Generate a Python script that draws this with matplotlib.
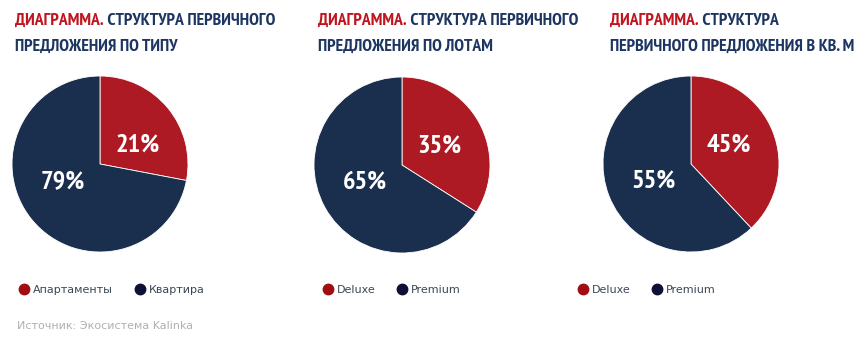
import matplotlib
matplotlib.use("Agg")
import matplotlib.pyplot as plt
from matplotlib import font_manager
from matplotlib.lines import Line2D

# look for a narrow bold face for the titles and percentages
cond_file = None
for key in ["narrow", "condensed"]:
    for f in font_manager.fontManager.ttflist:
        fn = f.fname.lower()
        if key in fn and "bold" in fn and "oblique" not in fn and "italic" not in fn:
            cond_file = f.fname
            break
    if cond_file:
        break

# data
title_red = "ДИАГРАММА."
titles = [
    ["СТРУКТУРА ПЕРВИЧНОГО", "ПРЕДЛОЖЕНИЯ ПО ТИПУ"],
    ["СТРУКТУРА ПЕРВИЧНОГО", "ПРЕДЛОЖЕНИЯ ПО ЛОТАМ"],
    ["СТРУКТУРА", "ПЕРВИЧНОГО ПРЕДЛОЖЕНИЯ В КВ. М"],
]
categories = [
    ["Апартаменты", "Квартира"],
    ["Deluxe", "Premium"],
    ["Deluxe", "Premium"],
]
# slice sizes as drawn in the source picture (it does not match its own labels)
shares = [
    [28, 72],
    [34, 66],
    [38, 62],
]
pct_labels = [
    ["21%", "79%"],
    ["35%", "65%"],
    ["45%", "55%"],
]
source = "Источник: Экосистема Kalinka"

RED = "#ad1a24"
NAVY = "#1a2e4e"
TITLE_NAVY = "#1d3561"
TITLE_RED = "#c0141e"
LEG_RED = "#a00d12"
LEG_NAVY = "#0e1038"

if cond_file:
    cfont = font_manager.FontProperties(fname=cond_file)
else:
    cfont = font_manager.FontProperties(family="DejaVu Sans", weight="bold")

W, H = 861, 351
fig = plt.figure(figsize=(W / 100, H / 100), dpi=100)
renderer = fig.canvas.get_renderer()

# pick the title size so the longest line fits the same width as in the source
probe = fig.text(0, 0, titles[2][1], fontproperties=cfont, fontsize=10)
probe_w = probe.get_window_extent(renderer).width
probe.remove()
tsize = min(13.5, 10 * 245 / probe_w)

centers = [(100, 164), (402, 165), (691, 164)]
title_x = [15, 318, 610]
legend_x = [8, 312, 567]
R = 88

for i in range(3):
    cx, cy = centers[i]
    ax = fig.add_axes([(cx - R) / W, 1 - (cy + R) / H, 2 * R / W, 2 * R / H])
    ax.pie(shares[i], colors=[RED, NAVY], startangle=90, counterclock=False,
           radius=1, wedgeprops=dict(linewidth=0.6, edgecolor="white"))
    ax.set_xlim(-1, 1)
    ax.set_ylim(-1, 1)
    ax.set_aspect("equal")
    ax.axis("off")
    ax.text(0.43, 0.21, pct_labels[i][0], color="white", fontsize=19,
            fontproperties=cfont, ha="center", va="center")
    ax.text(-0.42, -0.2, pct_labels[i][1], color="white", fontsize=19,
            fontproperties=cfont, ha="center", va="center")

    # title, two lines, first word red
    tx = title_x[i] / W
    t1 = fig.text(tx, 1 - 25 / H, title_red, color=TITLE_RED, fontsize=tsize,
                  fontproperties=cfont, ha="left", va="baseline")
    ax.annotate(" " + titles[i][0], xy=(1, 0), xycoords=t1,
                color=TITLE_NAVY, fontsize=tsize, fontproperties=cfont,
                ha="left", va="bottom", annotation_clip=False)
    fig.text(tx, 1 - 51 / H, titles[i][1], color=TITLE_NAVY, fontsize=tsize,
             fontproperties=cfont, ha="left", va="baseline")

    handles = [Line2D([], [], marker="o", linestyle="", markersize=7.5,
                      color=c) for c in [LEG_RED, LEG_NAVY]]
    fig.legend(handles, categories[i], loc="center left",
               bbox_to_anchor=(legend_x[i] / W, 1 - 290 / H), ncol=2,
               frameon=False, fontsize=8, handletextpad=0.3,
               columnspacing=1.95, handlelength=1.0, labelcolor="#3b4756")

fig.text(17 / W, 1 - 326 / H, source, color="#b0b0b0", fontsize=8,
         ha="left", va="center")

fig.savefig("out.png", dpi=100)
